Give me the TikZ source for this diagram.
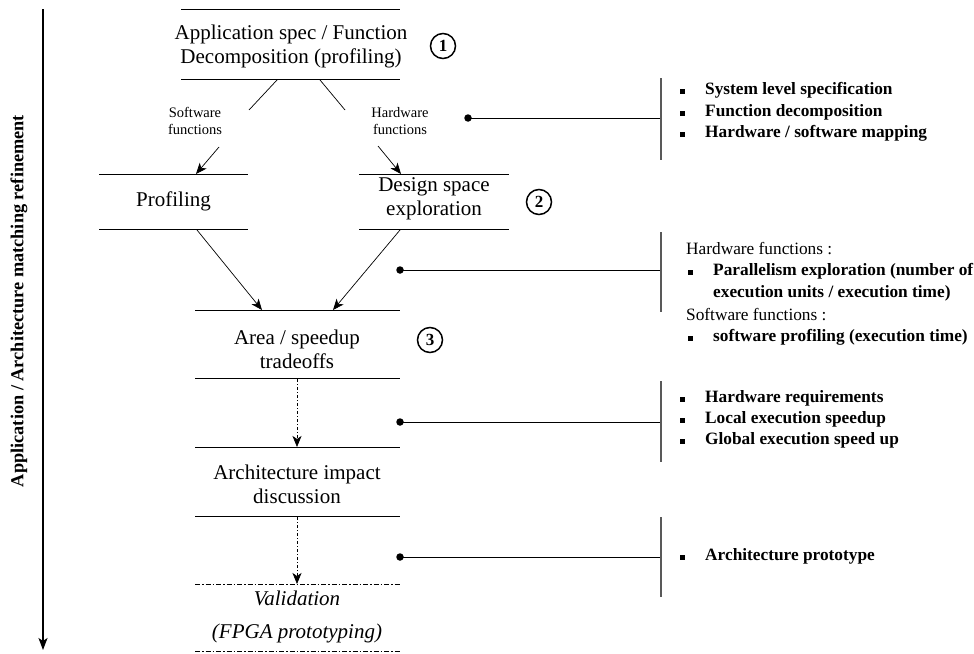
\documentclass[tikz,border=0pt]{standalone}
\usepackage{fontspec}
\setmainfont{Liberation Serif}
\usetikzlibrary{arrows.meta}
\begin{document}
\begin{tikzpicture}[x=1pt,y=-1pt,
  boxtext/.style={font=\fontsize{21}{24}\selectfont, align=center, inner sep=0pt},
  smalltext/.style={font=\fontsize{14.5}{17}\selectfont, align=center, inner sep=0pt},
  bul/.style={font=\bfseries\fontsize{17.3}{20}\selectfont, anchor=west, inner sep=0pt},
  head/.style={font=\fontsize{17.3}{20}\selectfont, anchor=west, inner sep=0pt},
  sq/.style={fill, minimum size=5pt, inner sep=0pt, rectangle},
  rulel/.style={line width=1pt},
  dashrule/.style={line width=1pt, dash pattern=on 5pt off 2pt on 1.5pt off 2pt},
  arr/.style={-{Stealth[length=11pt,width=9pt,inset=3pt]}, line width=0.7pt},
  plain/.style={line width=0.7pt},
  dasharr/.style={arr, dash pattern=on 3pt off 2pt on 1pt off 2pt},
  num/.style={circle, draw, line width=1.5pt, minimum size=25pt, inner sep=0pt, font=\bfseries\fontsize{17}{17}\selectfont},
  dotn/.style={circle, fill, inner sep=0pt, minimum size=7.5pt},
  link/.style={line width=0.9pt},
  barl/.style={draw=black!65, line width=1.2pt}
]
\useasboundingbox (0,0) rectangle (974,653);

% ---- left axis
\coordinate (axtop) at (43,9);
\coordinate (axbot) at (43,650);
\draw[line width=1.4pt, -{Stealth[length=12pt,width=9pt,inset=3pt]}] (axtop) -- (axbot);
\node[rotate=90, inner sep=0pt, font=\bfseries\fontsize{18.3}{20}\selectfont] (axlabel) at (19,301) {Application / Architecture matching refinement};

% ---- box 1
\draw[rulel] (181,9) -- (400,9);
\draw[rulel] (181,79) -- (400,79);
\node[boxtext] (app) at (291,46) {Application spec / Function\\Decomposition (profiling)};
\node[num] (n1) at (443,46) {1};

% ---- software / hardware split
\coordinate (swa) at (277,80);
\coordinate (swb) at (249,110);
\coordinate (hwa) at (320,80);
\coordinate (hwb) at (345,110);
\draw[plain] (swa) -- (swb);
\draw[plain] (hwa) -- (hwb);
\node[smalltext] (swlab) at (195,121) {Software\\functions};
\node[smalltext] (hwlab) at (400,121) {Hardware\\functions};
\coordinate (swc) at (219,147);
\coordinate (swd) at (196,174);
\coordinate (hwc) at (378,146);
\coordinate (hwd) at (401,174);
\draw[arr] (swc) -- (swd);
\draw[arr] (hwc) -- (hwd);

% ---- profiling / design space
\draw[rulel] (99,174) -- (248,174);
\draw[rulel] (99,229) -- (248,229);
\node[boxtext] (prof) at (173.5,201) {Profiling};
\draw[rulel] (359,174) -- (509,174);
\draw[rulel] (359,229) -- (509,229);
\node[boxtext] (dse) at (434,199) {Design space\\exploration};
\node[num] (n2) at (539,202) {2};

% ---- area / speedup
\coordinate (pa) at (197,230);
\coordinate (pb) at (262,310);
\coordinate (da) at (400,230);
\coordinate (db) at (333,310);
\draw[arr] (pa) -- (pb);
\draw[arr] (da) -- (db);
\draw[rulel] (195,310) -- (400,310);
\draw[rulel] (195,378) -- (400,378);
\node[boxtext] (area) at (297,349) {Area / speedup\\tradeoffs};
\node[num] (n3) at (430,340) {3};

% ---- architecture impact
\coordinate (aa) at (297,379);
\coordinate (ab) at (297,447);
\draw[dasharr] (aa) -- (ab);
\draw[rulel] (195,447) -- (400,447);
\draw[rulel] (195,516) -- (400,516);
\node[boxtext] (arch) at (297,484) {Architecture impact\\discussion};

% ---- validation
\coordinate (va) at (297,517);
\coordinate (vb) at (297,584);
\draw[dasharr] (va) -- (vb);
\draw[dashrule] (195,584) -- (400,584);
\draw[dashrule] (195,651) -- (400,651);
\node[boxtext, font=\itshape\fontsize{21}{24}\selectfont] (val) at (297,598) {Validation};
\node[boxtext, font=\itshape\fontsize{21}{24}\selectfont] (fpga) at (297,633) {(FPGA prototyping)};

% ---- side links
\node[dotn] (d1) at (468,118) {};
\coordinate (e1) at (661,118);
\draw[link] (d1.center) -- (e1);
\draw[barl] (661,78) -- (661,160);

\node[dotn] (d2) at (400,270) {};
\coordinate (e2) at (661,270);
\draw[link] (d2.center) -- (e2);
\draw[barl] (661,232) -- (661,312);

\node[dotn] (d3) at (400,422) {};
\coordinate (e3) at (661,422);
\draw[link] (d3.center) -- (e3);
\draw[barl] (661,381) -- (661,462);

\node[dotn] (d4) at (400,557) {};
\coordinate (e4) at (661,557);
\draw[link] (d4.center) -- (e4);
\draw[barl] (661,517) -- (661,597);

% ---- text block 1
\node[sq] (s11) at (682,91) {};
\node[bul] (t11) at (705,90) {System level specification};
\node[sq] (s12) at (682,113) {};
\node[bul] (t12) at (705,112) {Function decomposition};
\node[sq] (s13) at (682,134) {};
\node[bul] (t13) at (705,133) {Hardware / software mapping};

% ---- text block 2
\node[head] (h21) at (686,249) {Hardware functions :};
\node[sq] (s21) at (690,272) {};
\node[bul] (t21) at (713,271) {Parallelism exploration (number of};
\node[bul] (t22) at (713,293) {execution units / execution time)};
\node[head] (h22) at (686,315) {Software functions :};
\node[sq] (s22) at (690,338) {};
\node[bul] (t23) at (713,337) {software profiling (execution time)};

% ---- text block 3
\node[sq] (s31) at (682,399) {};
\node[bul] (t31) at (705,398) {Hardware requirements};
\node[sq] (s32) at (682,420) {};
\node[bul] (t32) at (705,419) {Local execution speedup};
\node[sq] (s33) at (682,441) {};
\node[bul] (t33) at (705,440) {Global execution speed up};

% ---- text block 4
\node[sq] (s41) at (682,557) {};
\node[bul] (t41) at (705,556) {Architecture prototype};
\end{tikzpicture}
\end{document}
